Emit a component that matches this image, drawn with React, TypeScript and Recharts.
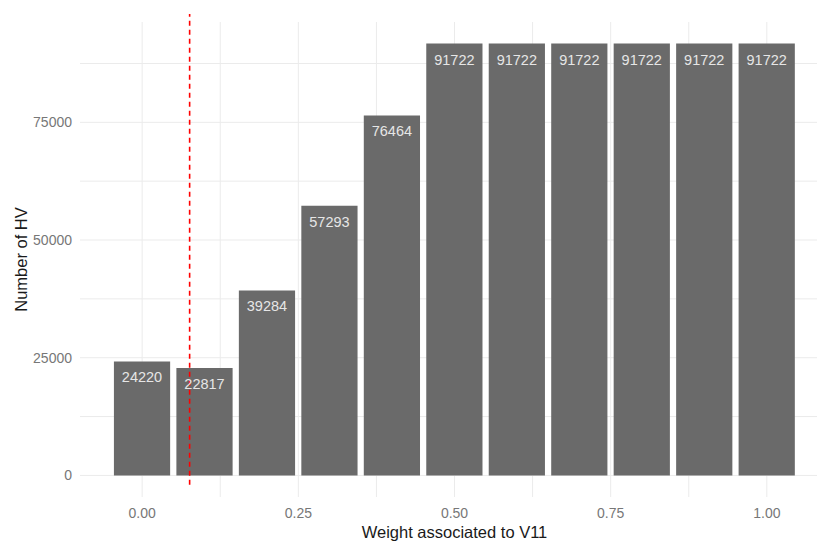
import React from 'react';
import {
  BarChart,
  Bar,
  XAxis,
  YAxis,
  CartesianGrid,
  ReferenceLine,
  LabelList,
} from 'recharts';

// ---- data ----
const weights = [0, 0.1, 0.2, 0.3, 0.4, 0.5, 0.6, 0.7, 0.8, 0.9, 1.0];
const hvCounts = [24220, 22817, 39284, 57293, 76464, 91722, 91722, 91722, 91722, 91722, 91722];
const xTicks = [0, 0.25, 0.5, 0.75, 1.0];
const yTicks = [0, 25000, 50000, 75000];
const xGridValues = [0, 0.125, 0.25, 0.375, 0.5, 0.625, 0.75, 0.875, 1.0];
const yGridValues = [0, 12500, 25000, 37500, 50000, 62500, 75000, 87500];
const thresholdWeight = 0.076;
const thresholdSpan = [-2000, 98000];

const data = weights.map((w, i) => ({ weight: w, count: hvCounts[i] }));

// ---- layout ----
const CHART_W = 840;
const CHART_H = 541;
const MARGIN = { top: 22, right: 11, bottom: 0, left: 0 };
const Y_AXIS_W = 80;
const X_AXIS_H = 44;
const X_DOMAIN: [number, number] = [-0.0995, 1.0995];
const Y_DOMAIN: [number, number] = [-4586, 96308];
const PLOT_W = CHART_W - MARGIN.left - MARGIN.right - Y_AXIS_W;
const BAR_SIZE = (0.09 * PLOT_W) / (X_DOMAIN[1] - X_DOMAIN[0]);

const FONT = '"Liberation Sans", Arial, Helvetica, sans-serif';
const TICK_COLOR = '#777777';
const BAR_COLOR = '#6a6a6a';

const XTick = (p: any) => (
  <text
    x={p.x}
    y={p.y + 21}
    textAnchor="middle"
    fontSize={14}
    fontFamily={FONT}
    fill={TICK_COLOR}
  >
    {Number(p.payload.value).toFixed(2)}
  </text>
);

const YTick = (p: any) => (
  <text
    x={p.x - 8}
    y={p.y + 5}
    textAnchor="end"
    fontSize={14}
    fontFamily={FONT}
    fill={TICK_COLOR}
  >
    {String(p.payload.value)}
  </text>
);

const XTitle = (props: any) => {
  const vb = props.viewBox;
  return (
    <text
      x={vb.x + vb.width / 2}
      y={vb.y + 41}
      textAnchor="middle"
      fontSize={16.5}
      fontFamily={FONT}
      fill="#1a1a1a"
    >
      Weight associated to V11
    </text>
  );
};

const YTitle = (props: any) => {
  const vb = props.viewBox;
  const cx = vb.x + 27;
  const cy = vb.y + vb.height / 2;
  return (
    <text
      x={cx}
      y={cy}
      transform={`rotate(-90 ${cx} ${cy})`}
      textAnchor="middle"
      fontSize={16.5}
      fontFamily={FONT}
      fill="#1a1a1a"
    >
      Number of HV
    </text>
  );
};

const BarValue = (p: any) => (
  <text
    x={p.x + p.width / 2}
    y={p.y + 21}
    textAnchor="middle"
    fontSize={14.5}
    fontFamily={FONT}
    fill="#e6e6e6"
  >
    {String(p.value)}
  </text>
);

export default function App() {
  return (
    <div
      style={{
        position: 'absolute',
        left: 0,
        top: 0,
        width: 817,
        height: 541,
        overflow: 'hidden',
        background: '#ffffff',
        fontFamily: FONT,
      }}
    >
      <BarChart width={CHART_W} height={CHART_H} data={data} margin={MARGIN}>
        <CartesianGrid
          stroke="#ebebeb"
          strokeWidth={1}
          horizontalValues={yGridValues}
          verticalValues={xGridValues}
        />
        <XAxis
          dataKey="weight"
          type="number"
          domain={X_DOMAIN}
          allowDataOverflow
          ticks={xTicks}
          interval={0}
          height={X_AXIS_H}
          tickSize={0}
          tickMargin={0}
          tickLine={false}
          axisLine={false}
          tick={XTick}
          label={XTitle}
        />
        <YAxis
          type="number"
          domain={Y_DOMAIN}
          allowDataOverflow
          ticks={yTicks}
          interval={0}
          width={Y_AXIS_W}
          tickSize={0}
          tickMargin={0}
          tickLine={false}
          axisLine={false}
          tick={YTick}
          label={YTitle}
        />
        <Bar dataKey="count" fill={BAR_COLOR} barSize={BAR_SIZE} isAnimationActive={false}>
          <LabelList dataKey="count" content={BarValue} />
        </Bar>
        <ReferenceLine
          segment={[
            { x: thresholdWeight, y: thresholdSpan[0] },
            { x: thresholdWeight, y: thresholdSpan[1] },
          ]}
          stroke="#ff0000"
          strokeWidth={1.6}
          strokeDasharray="5 4"
          ifOverflow="visible"
        />
      </BarChart>
    </div>
  );
}
